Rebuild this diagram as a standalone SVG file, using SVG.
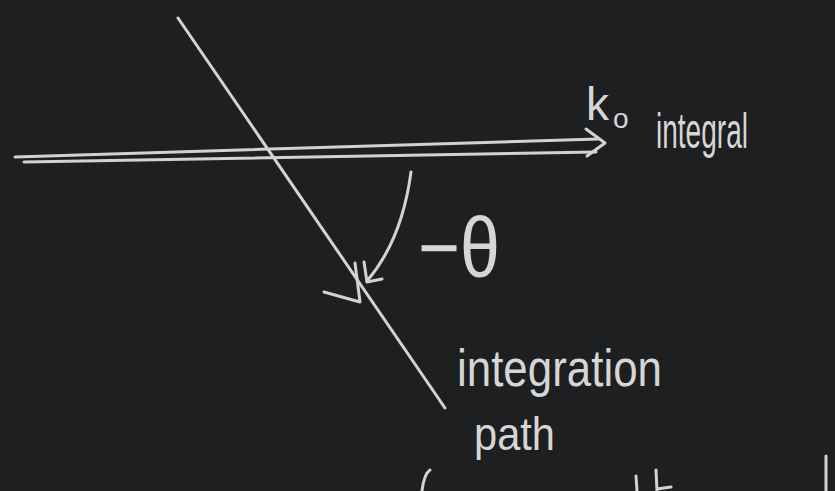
<svg xmlns="http://www.w3.org/2000/svg" width="835" height="491" viewBox="0 0 835 491">
<style>
.ch{fill:none;stroke:#d2d2d2;stroke-width:3;stroke-linecap:round;stroke-linejoin:round}
.tx{fill:#d6d6d6;font-family:"Liberation Sans","DejaVu Sans",sans-serif}
</style>
<rect width="835" height="491" fill="#1e1f20"/>
<g id="connectors">
  <path class="ch" d="M178,18 L445,408"/>
  <path class="ch" d="M15,157 L598,139"/>
  <path class="ch" d="M24,162 L596,152"/>
  <path class="ch" d="M586,129 L605,143 L587,156"/>
  <path class="ch" d="M411,172 Q402,240 367,281"/>
  <path class="ch" d="M364,262 L367,282 L382,279"/>
  <path class="ch" d="M324,292 L360,302 L355,263"/>
</g>
<g id="k0"><text class="tx" x="586" y="120" font-size="46">k<tspan font-size="28" dx="4" dy="8">o</tspan></text></g>
<g id="integral"><text class="tx" x="656" y="148" font-size="50" textLength="92" lengthAdjust="spacingAndGlyphs">integral</text></g>
<g id="theta"><text class="tx" x="418" y="277" font-size="86" textLength="82" lengthAdjust="spacingAndGlyphs">−θ</text></g>
<g id="integration"><text class="tx" x="457" y="386" font-size="52" textLength="205" lengthAdjust="spacingAndGlyphs">integration</text></g>
<g id="path"><text class="tx" x="474" y="450" font-size="46" textLength="81" lengthAdjust="spacingAndGlyphs">path</text></g>
<g id="fragments">
  <path class="ch" d="M422,491 Q424,474 430,470"/>
  <path class="ch" d="M637,491 L636,476"/>
  <path class="ch" d="M657,491 L656,470 M657,489 L671,487"/>
  <path class="ch" d="M826,491 L826,456"/>
</g>
</svg>
